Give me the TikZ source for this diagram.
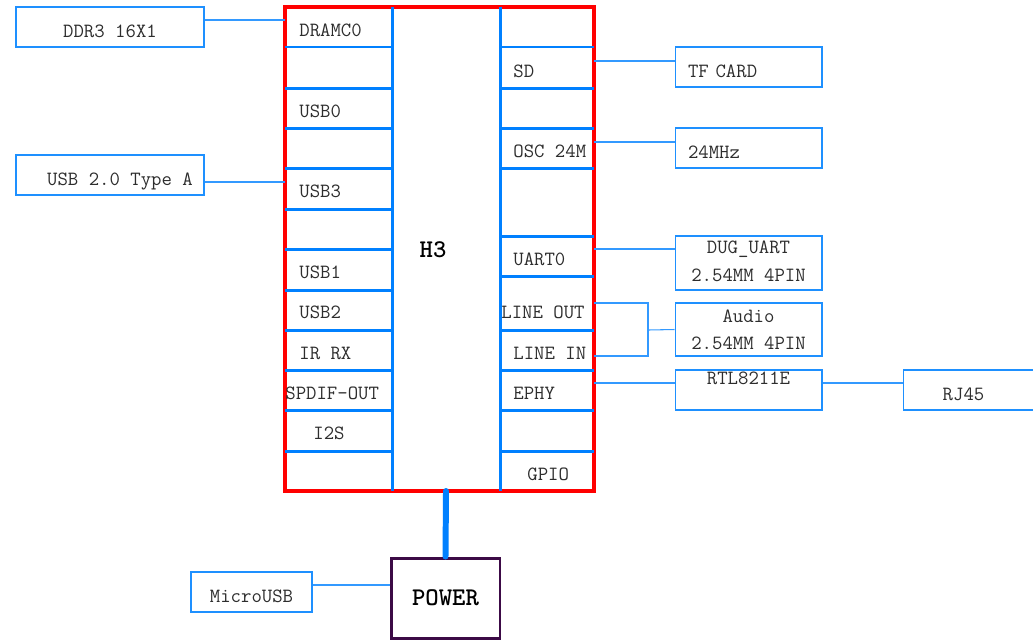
\documentclass[tikz,border=0pt]{standalone}
\usepackage{xcolor}
\usepackage{fontspec}
\usepackage{tikz}
\usetikzlibrary{positioning, calc}
\definecolor{chipred}{RGB}{255,0,0}
\definecolor{busblue}{RGB}{0,128,255}
\definecolor{wireblue}{RGB}{51,153,255}
\definecolor{boxblue}{RGB}{30,144,255}
\definecolor{txtgray}{RGB}{45,45,45}
\definecolor{pwrframe}{RGB}{60,10,70}
\newcommand{\lblfont}{\ttfamily\fontsize{11.5}{15.3}\selectfont}
\newcommand{\hdrfont}{\ttfamily\bfseries\fontsize{14.5}{16}\selectfont}
\tikzset{
  extbox/.style={rectangle,draw=boxblue,line width=0.6pt,minimum width=2.94cm,
    minimum height=0.8cm,inner sep=0pt,font=\lblfont,text=txtgray,align=center},
  onerow/.style={text height=0.4cm,text depth=0pt},
  leftbox/.style={extbox,onerow,inner xsep=0.26cm,text width=2.42cm,align=left},
  pinlbl/.style={anchor=west,inner sep=0pt,font=\lblfont,text=txtgray},
  bus/.style={draw=busblue,line width=1.7pt},
  wire/.style={draw=wireblue,line width=0.6pt}
}

\begin{document}
\begin{tikzpicture}[x=0.02cm, y=-0.02cm]
  \clip (0,0) rectangle (1033,640);

  % H3 chip outline
  \draw[chipred, line width=1.8pt] (285,7) rectangle (594,491);

  % Pin columns
  \draw[bus] (392,7) -- (392,491);
  \draw[bus] (500,7) -- (500,491);
  \foreach \y in {47,88,128,168,209,249,290,330,370,410,451}
    \draw[bus] (285,\y) -- (392,\y);
  \foreach \y in {47,88,128,168,236,276,330,370,410,451}
    \draw[bus] (500,\y) -- (594,\y);

  \node[font=\hdrfont, text=black] (h3) at (433,250) {H3};

  % Left pins
  \node[pinlbl] (dramc) at (299,30) {DRAMC0};
  \node[pinlbl] (usb0) at (299,111) {USB0};
  \node[pinlbl] (usb3) at (299,191) {USB3};
  \node[pinlbl] (usb1) at (299,272) {USB1};
  \node[pinlbl] (usb2) at (299,312) {USB2};
  \node[pinlbl] (irrx) at (299,353) {IR RX};
  \node[pinlbl] (spdif) at (285,393) {SPDIF-OUT};
  \node[pinlbl] (i2s) at (313,433) {I2S};

  % Right pins
  \node[pinlbl] (sd) at (513,71) {SD};
  \node[pinlbl] (osc) at (513,151) {OSC 24M};
  \node[pinlbl] (uart) at (513,259) {UART0};
  \node[pinlbl] (lineout) at (501,312) {LINE OUT};
  \node[pinlbl] (linein) at (513,353) {LINE IN};
  \node[pinlbl] (ephy) at (513,393) {EPHY};
  \node[pinlbl] (gpio) at (527,474) {GPIO};

  % Pin contact points on the chip edge
  \coordinate (pDram) at (285,20);
  \coordinate (pUsb) at (285,182);
  \coordinate (pSd) at (594,61);
  \coordinate (pOsc) at (594,142);
  \coordinate (pUart) at (594,249);
  \coordinate (pLout) at (594,303);
  \coordinate (pLin) at (594,356);
  \coordinate (pEphy) at (594,383);
  \coordinate (audjoin) at (648,330);
  \coordinate (pwrtap) at (446,491);
  \coordinate (pwrin) at (391,585);

  % Peripherals
  \node[extbox, onerow, minimum width=3.76cm] (ddr) at (110,27) {DDR3 16X1};
  \node[extbox, onerow, minimum width=3.76cm] (usba) at (110,175) {\hspace{0.4cm}USB 2.0 Type A};
  \node[leftbox] (tf) at (748.5,67) {TF CARD};
  \node[leftbox] (xtal) at (748.5,148) {24MHz};
  \node[extbox, minimum height=1.08cm] (dug) at (748.5,263) {\raisebox{3pt}{DUG\_UART}\\\raisebox{2pt}{2.54MM 4PIN}};
  \node[extbox, minimum height=1.06cm] (audio) at (748.5,329.5) {Audio\\2.54MM 4PIN};
  \node[extbox] (rtl) at (748.5,390) {\raisebox{-2pt}{RTL8211E}\\\mbox{}};
  \node[extbox, onerow, anchor=west, minimum width=2.8cm] (rj) at (903,390) {\hspace{-0.4cm}RJ45};
  \node[extbox, onerow, minimum width=2.42cm] (musb) at (251.5,592) {MicroUSB};

  % Power block
  \node[rectangle, draw=pwrframe, line width=1.7pt, minimum width=2.18cm,
    minimum height=1.6cm, font=\hdrfont] (power) at (445.5,598) {POWER};
  \draw[busblue, line width=3.4pt, line cap=round] (pwrtap) -- (power.north);

  % Connections
  \draw[wire] (ddr.east |- pDram) -- (pDram);
  \draw[wire] (usba.east |- pUsb) -- (pUsb);
  \draw[wire] (pSd) -- (tf.west |- pSd);
  \draw[wire] (pOsc) -- (xtal.west |- pOsc);
  \draw[wire] (pUart) -- (dug.west |- pUart);
  \draw[wire] (pLout) -| (audjoin) |- (pLin);
  \draw[wire] (audjoin) -- (audio.west);
  \draw[wire] (pEphy) -- (rtl.west |- pEphy);
  \draw[wire] (rtl.east |- pEphy) -- (rj.west |- pEphy);
  \draw[wire] (musb.east |- pwrin) -- (power.west |- pwrin);
\end{tikzpicture}
\end{document}
